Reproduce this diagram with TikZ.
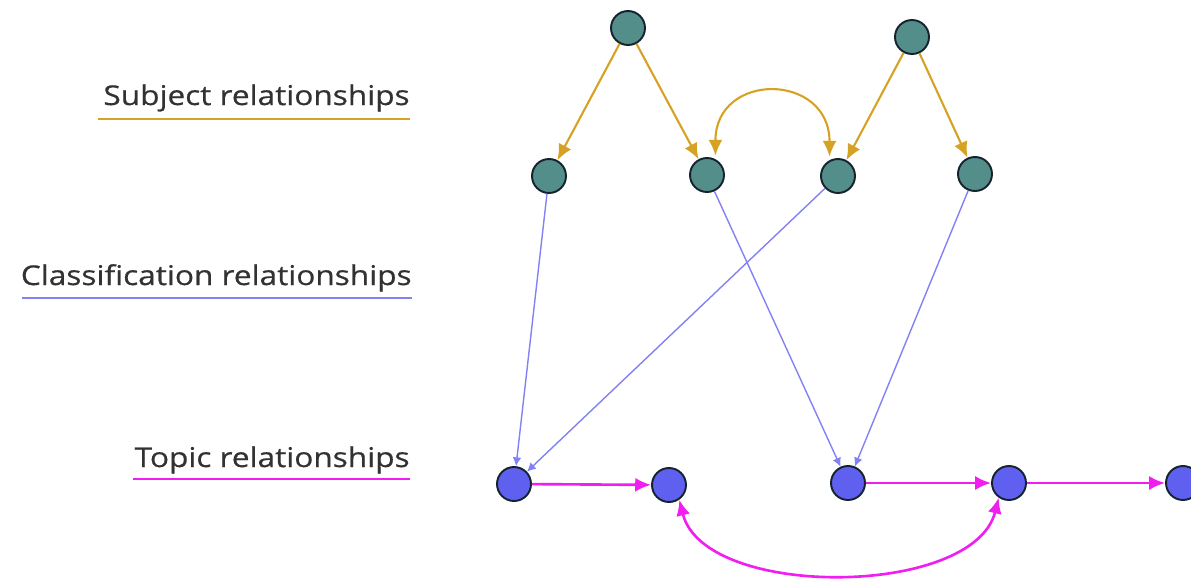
\documentclass[tikz,border=0pt]{standalone}
\usepackage{fontspec}
\setmainfont[FakeStretch=1.16,FakeBold=0.6]{Open Sans}
\usetikzlibrary{arrows.meta}
\definecolor{gold}{RGB}{214,162,36}
\definecolor{teal}{RGB}{84,142,138}
\definecolor{nodeblue}{RGB}{96,96,240}
\definecolor{edgeblue}{RGB}{130,130,245}
\definecolor{mag}{RGB}{240,30,240}
\definecolor{txt}{RGB}{50,50,50}
\definecolor{ring}{RGB}{20,35,45}
\tikzset{
  topicnode/.style={circle,draw=ring,line width=1.1pt,minimum size=0.68cm,inner sep=0pt},
  subj/.style={topicnode,fill=teal},
  topc/.style={topicnode,fill=nodeblue},
  goldedge/.style={draw=gold,line width=1.2pt,-{Latex[length=9pt,width=8pt]}},
  blueedge/.style={draw=edgeblue,line width=0.8pt,-{Latex[length=5pt,width=5pt]}},
  magedge/.style={draw=mag,line width=1.5pt,-{Latex[length=9pt,width=8pt]}},
  lbl/.style={anchor=base east,text=txt,font=\fontsize{15.5}{18}\selectfont,inner sep=0pt},
}
\begin{document}
\begin{tikzpicture}[x=0.02cm,y=-0.02cm]
\useasboundingbox (0,0) rectangle (1191,585);
% labels
\node[lbl] (l1) at (410,105) {Subject relationships};
\node[lbl] (l2) at (412,285) {Classification relationships};
\node[lbl] (l3) at (410,467) {Topic relationships};
\draw[gold,line width=1.2pt] (98,119) -- (410,119);
\draw[edgeblue,line width=1.2pt] (22,298) -- (412,298);
\draw[mag,line width=1.2pt] (133,479) -- (410,479);
% nodes
\node[subj] (T1) at (628,28) {};
\node[subj] (T2) at (912,37) {};
\node[subj] (M1) at (549,176) {};
\node[subj] (M2) at (707,175) {};
\node[subj] (M3) at (838,176) {};
\node[subj] (M4) at (975,174) {};
\node[topc] (B1) at (514,484) {};
\node[topc] (B2) at (669,485) {};
\node[topc] (B3) at (848,483) {};
\node[topc] (B4) at (1009,483) {};
\node[topc] (B5) at (1183,483) {};
% subject edges
\draw[goldedge] (T1) -- (M1);
\draw[goldedge] (T1) -- (M2);
\draw[goldedge] (T2) -- (M3);
\draw[goldedge] (T2) -- (M4);
\draw[goldedge,{Latex[length=9pt,width=8pt]}-{Latex[length=9pt,width=8pt]},shorten <=2pt,shorten >=2pt] (M2.62) .. controls +(0,-88) and +(0,-88) .. (M3.118);
% classification edges
\draw[blueedge] (M1) -- (B1);
\draw[blueedge] (M3) -- (B1);
\draw[blueedge] (M2) -- (B3);
\draw[blueedge] (M4) -- (B3);
% topic edges
\draw[magedge] (B1) -- (B2);
\draw[magedge] (B3) -- (B4);
\draw[magedge] (B4) -- (B5);
\draw[magedge,{Latex[length=9pt,width=8pt]}-{Latex[length=9pt,width=8pt]}] (B2.-55) .. controls +(25,100) and +(-25,100) .. (B4.-125);
\end{tikzpicture}
\end{document}
